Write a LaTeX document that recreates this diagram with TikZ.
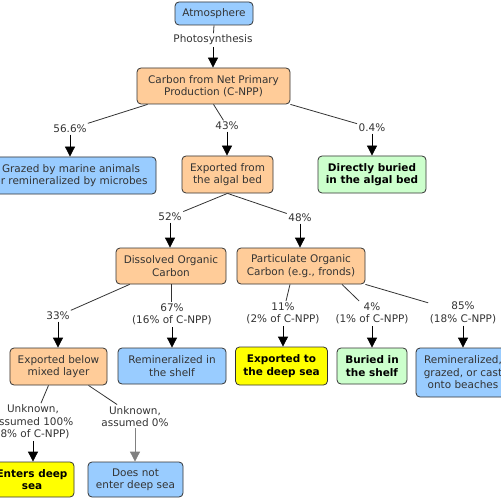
\documentclass[tikz,border=0pt]{standalone}
\usepackage{fontspec}
\setmainfont{DejaVu Sans}
\usetikzlibrary{arrows.meta}

\definecolor{skyfill}{HTML}{99CCFF}
\definecolor{peachfill}{HTML}{FFCC99}
\definecolor{mintfill}{HTML}{CCFFCC}
\definecolor{lemonfill}{HTML}{FFFF00}
\definecolor{inkgray}{HTML}{333333}
\newcommand{\mapfont}{\fontsize{10.5}{12.5}\selectfont}

\tikzset{
	box/.style={draw=inkgray, line width=0.8bp, rounded corners=4bp, align=center, inner sep=0pt, text=inkgray, font=\mapfont},
	sky/.style={box, fill=skyfill},
	peach/.style={box, fill=peachfill},
	mint/.style={box, fill=mintfill, text=black, font=\mapfont\bfseries},
	lemon/.style={box, fill=lemonfill, text=black, font=\mapfont\bfseries},
	lbl/.style={inner sep=1.5bp, align=center, text=inkgray, font=\mapfont},
	link/.style={draw=inkgray, line width=0.8bp},
	flow/.style={draw=black, line width=0.8bp, arrows={-Triangle[length=10bp, width=10bp]}}
}

\begin{document}
\begin{tikzpicture}[x=1bp, y=-1bp]
	\useasboundingbox (0,0) rectangle (500,500);

	% boxes
	\node [sky, minimum width=78bp, minimum height=23bp] (atm) at (214,13.5) {Atmosphere};
	\node [peach, minimum width=153bp, minimum height=36bp] (cnpp) at (213.5,86) {Carbon from Net Primary\\Production (C-NPP)};
	\node [sky, minimum width=170bp, minimum height=37bp] (graze) at (71,175.5) {Grazed by marine animals\\or remineralized by microbes};
	\node [peach, minimum width=91bp, minimum height=37bp] (expbed) at (227.5,174.5) {Exported from\\the algal bed};
	\node [mint, minimum width=108bp, minimum height=37bp] (dburied) at (372,174.5) {Directly buried\\in the algal bed};
	\node [peach, minimum width=110bp, minimum height=36bp] (doc) at (171,266) {Dissolved Organic\\Carbon};
	\node [peach, minimum width=128bp, minimum height=36bp] (poc) at (301,266) {Particulate Organic\\Carbon (e.g., fronds)};
	\node [peach, minimum width=97bp, minimum height=37bp] (expmix) at (58.5,366.5) {Exported below\\mixed layer};
	\node [sky, minimum width=108bp, minimum height=36bp] (remshelf) at (172,366) {Remineralized in\\the shelf};
	\node [lemon, minimum width=92bp, minimum height=38bp] (expdeep) at (281.5,366) {Exported to\\the deep sea};
	\node [mint, minimum width=70bp, minimum height=36bp] (bshelf) at (372,366) {Buried in\\the shelf};
	\node [sky, minimum width=94bp, minimum height=49bp] (remgraze) at (463,372.5) {Remineralized,\\grazed, or cast\\onto beaches};
	\node [lemon, minimum width=84bp, minimum height=35bp] (enters) at (32,479.5) {Enters deep\\sea};
	\node [sky, minimum width=95bp, minimum height=35bp] (notenter) at (135.5,479.5) {Does not\\enter deep sea};

	% labels
	\node [lbl] (photo) at (213,40) {Photosynthesis};
	\node [lbl] (p566) at (70,129) {56.6\%};
	\node [lbl] (p43) at (227,126) {43\%};
	\node [lbl] (p04) at (372,128) {0.4\%};
	\node [lbl] (p52) at (170,217) {52\%};
	\node [lbl] (p48) at (300,218) {48\%};
	\node [lbl] (p33) at (58,316) {33\%};
	\node [lbl] (p67) at (172,314.5) {67\%\\(16\% of C-NPP)};
	\node [lbl] (p11) at (283,313.5) {11\%\\(2\% of C-NPP)};
	\node [lbl] (p4) at (372,313.5) {4\%\\(1\% of C-NPP)};
	\node [lbl] (p85) at (463,313) {85\%\\(18\% C-NPP)};
	\node [lbl] (u100) at (33,422) {Unknown,\\assumed 100\%\\(8\% of C-NPP)};
	\node [lbl] (u0) at (135,416.5) {Unknown,\\assumed 0\%};

	% box to label
	\draw [link] (atm.south) -- (photo);
	\draw [link] ([xshift=11bp]cnpp.south west) -- (p566);
	\draw [link] (cnpp.south) -- (p43);
	\draw [link] (cnpp.south east) -- (p04);
	\draw [link] (expbed.south) -- (p52);
	\draw [link] (expbed.south) -- (p48);
	\draw [link] ([xshift=14bp]doc.south west) -- (p33);
	\draw [link] (doc.south) -- (doc.south |- p67.north);
	\draw [link] ([xshift=-11bp]poc.south) -- (p11);
	\draw [link] ([xshift=41bp]poc.south) -- (p4);
	\draw [link] (poc.south east) -- (p85);
	\draw [link] ([xshift=-10bp]expmix.south) -- (u100);
	\draw [link] ([xshift=30bp]expmix.south) -- (u0);

	% label to box
	\draw [flow] (photo) -- (photo |- cnpp.north);
	\draw [flow] (p566) -- (p566 |- graze.north);
	\draw [flow] (p43) -- (p43 |- expbed.north);
	\draw [flow] (p04) -- (p04 |- dburied.north);
	\draw [flow] (p52) -- (p52 |- doc.north);
	\draw [flow] (p48) -- (p48 |- poc.north);
	\draw [flow] (p33) -- (p33 |- expmix.north);
	\draw [flow] (p67) -- (p67 |- remshelf.north);
	\draw [flow] (p11) -- (p11 |- expdeep.north);
	\draw [flow] (p4) -- (p4 |- bshelf.north);
	\draw [flow] (p85) -- (p85 |- remgraze.north);
	\draw [flow] (u100) -- (u100 |- enters.north);
	\draw [flow, draw=gray, fill=gray] (u0) -- (u0 |- notenter.north);
\end{tikzpicture}
\end{document}
